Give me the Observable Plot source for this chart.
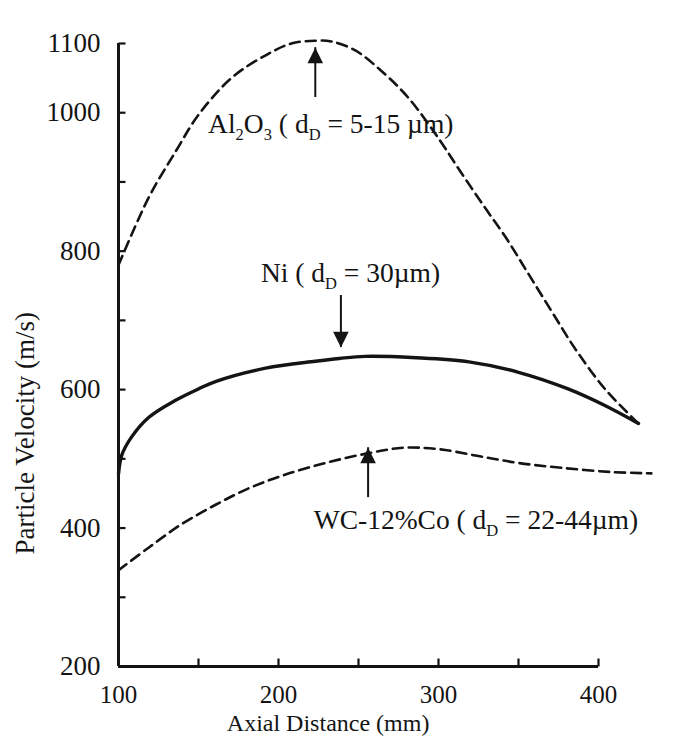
<!DOCTYPE html>
<html>
<head>
<meta charset="utf-8">
<script src="https://cdn.jsdelivr.net/npm/d3@7"></script>
<script src="https://cdn.jsdelivr.net/npm/@observablehq/plot@0.6"></script>
<style>
  body { margin: 0; background: #fff; }
  #chart svg { display: block; }
  #chart svg, #chart svg text { font-family: "Liberation Serif", "Times New Roman", serif; }
</style>
</head>
<body>
<div id="chart"></div>
<script>
// ---- Data ----
const al2o3Distance = [100, 119, 136, 150, 171, 192, 208, 223, 233, 248, 264, 281, 300, 314, 329, 342, 356, 371, 386, 404, 421, 425];
const al2o3Velocity = [780, 878, 945, 997, 1051, 1083, 1100, 1104, 1103, 1090, 1061, 1022, 963, 914, 863, 820, 768, 712, 657, 601, 560, 551];

const niDistance = [100, 102, 108, 119, 136, 150, 161, 192, 223, 238, 254, 286, 319, 350, 381, 404, 425];
const niVelocity = [478, 505, 531, 560, 585, 601, 612, 631, 641, 645, 648, 646, 640, 625, 601, 577, 551];

const wcDistance = [100, 119, 139, 161, 181, 204, 231, 256, 278, 300, 325, 350, 377, 408, 433];
const wcVelocity = [339, 372, 405, 434, 457, 477, 495, 508, 516, 514, 504, 494, 487, 481, 479];

const xTicks = [150, 200, 250, 300, 350, 400];
const xTickLabels = [100, 200, 300, 400];
const yTicks = [300, 400, 500, 600, 700, 800, 900, 1000, 1100];
const yTickLabels = [200, 400, 600, 800, 1000, 1100];

const annotationText = ["Al_2O_3 ( d_D = 5-15 µm)", "Ni ( d_D = 30µm)", "WC-12%Co ( d_D = 22-44µm)"];
const annotationDistance = [156, 189, 222];
const annotationVelocity = [984, 768, 411];

const arrowUpDistance = [223, 256];
const arrowUpTail = [1022, 444];
const arrowUpTip = [1094, 516];
const arrowDownDistance = [239];
const arrowDownTail = [736];
const arrowDownTip = [661];

// ---- Build tables ----
const toRows = (xs, ys) => xs.map((x, i) => ({x, y: ys[i]}));
const al2o3 = toRows(al2o3Distance, al2o3Velocity);
const ni = toRows(niDistance, niVelocity);
const wc = toRows(wcDistance, wcVelocity);
const annotations = annotationText.map((t, i) => ({t, x: annotationDistance[i], y: annotationVelocity[i]}));
const arrowsUp = arrowUpDistance.map((x, i) => ({x, y1: arrowUpTail[i], y2: arrowUpTip[i]}));
const arrowsDown = arrowDownDistance.map((x, i) => ({x, y1: arrowDownTail[i], y2: arrowDownTip[i]}));

// custom symbols (tip at origin)
const headUp = {draw(ctx, size) { const s = Math.sqrt(size); ctx.moveTo(0, 0); ctx.lineTo(-0.8 * s, 1.6 * s); ctx.lineTo(0.8 * s, 1.6 * s); ctx.closePath(); }};
const headDown = {draw(ctx, size) { const s = Math.sqrt(size); ctx.moveTo(0, 0); ctx.lineTo(-0.8 * s, -1.6 * s); ctx.lineTo(0.8 * s, -1.6 * s); ctx.closePath(); }};
const tickRight = {draw(ctx) { ctx.moveTo(0, 0); ctx.lineTo(7, 0); }};
const tickUp = {draw(ctx) { ctx.moveTo(0, 0); ctx.lineTo(0, -8); }};

const ink = "#141414";
const serif = "Liberation Serif, Times New Roman, serif";

const chart = Plot.plot({
  width: 686,
  height: 736,
  marginLeft: 118,
  marginRight: 24,
  marginTop: 43,
  marginBottom: 70,
  style: {fontFamily: serif, fontSize: "24px", color: ink, background: "#fff"},
  x: {domain: [100, 440], axis: null},
  y: {domain: [200, 1100], axis: null},
  marks: [
    // axes
    Plot.ruleX([100], {y1: 200, y2: 1100, stroke: ink, strokeWidth: 3}),
    Plot.ruleY([200], {x1: 100, x2: 400, stroke: ink, strokeWidth: 3}),
    Plot.dot(yTicks, {x: 100, y: d => d, symbol: tickRight, stroke: ink, strokeWidth: 2.2, fill: "none"}),
    Plot.dot(xTicks, {x: d => d, y: 200, symbol: tickUp, stroke: ink, strokeWidth: 2.2, fill: "none"}),
    Plot.text(yTickLabels, {x: 100, y: d => d, text: d => String(d), textAnchor: "end", dx: -18, fontSize: 27, fontFamily: serif, fill: ink}),
    Plot.text(xTickLabels, {x: d => d, y: 200, text: d => String(d), dy: 28, fontSize: 25, fontFamily: serif, fill: ink}),
    Plot.text(["Axial Distance (mm)"], {x: 231, y: 200, dy: 57, fontSize: 24, fontFamily: serif, fill: ink}),
    Plot.text(["Particle Velocity (m/s)"], {frameAnchor: "left", y: 537, dx: -93, rotate: -90, textAnchor: "middle", fontSize: 27, fontFamily: serif, fill: ink}),
    // curves
    Plot.line(al2o3, {x: "x", y: "y", curve: "catmull-rom", stroke: ink, strokeWidth: 2.6, strokeDasharray: "10,6"}),
    Plot.line(wc, {x: "x", y: "y", curve: "catmull-rom", stroke: ink, strokeWidth: 2.6, strokeDasharray: "10,6"}),
    Plot.line(ni, {x: "x", y: "y", curve: "catmull-rom", stroke: ink, strokeWidth: 3.4}),
    // arrows
    Plot.ruleX(arrowsUp, {x: "x", y1: "y1", y2: "y2", stroke: ink, strokeWidth: 2}),
    Plot.ruleX(arrowsDown, {x: "x", y1: "y1", y2: "y2", stroke: ink, strokeWidth: 2}),
    Plot.dot(arrowsUp, {x: "x", y: "y2", symbol: headUp, r: 5.5, fill: ink, stroke: "none"}),
    Plot.dot(arrowsDown, {x: "x", y: "y2", symbol: headDown, r: 5.5, fill: ink, stroke: "none"}),
    // annotations
    Plot.text(annotations, {x: "x", y: "y", text: "t", textAnchor: "start", fontSize: 27.5, fontFamily: serif, fill: ink})
  ]
});

// render "_X" as subscripts
d3.select(chart).selectAll("text").each(function () {
  const s = this.textContent;
  if (!s.includes("_")) return;
  const el = d3.select(this);
  el.text(null);
  let buf = "";
  let shifted = false;
  const flush = () => {
    if (!buf) return;
    const t = el.append("tspan").text(buf);
    if (shifted) { t.attr("dy", -7); shifted = false; }
    buf = "";
  };
  for (let i = 0; i < s.length; i++) {
    if (s[i] === "_" && i + 1 < s.length) {
      flush();
      const sub = el.append("tspan").attr("font-size", "0.6em").text(s[i + 1]);
      if (!shifted) { sub.attr("dy", 7); shifted = true; }
      i++;
    } else {
      buf += s[i];
    }
  }
  flush();
});

document.getElementById("chart").appendChild(chart);
</script>
</body>
</html>
